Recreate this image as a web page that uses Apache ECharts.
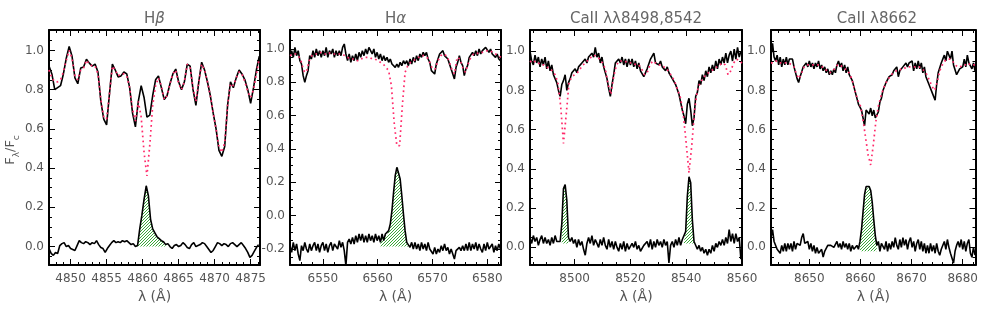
<!DOCTYPE html>
<html><head><meta charset="utf-8">
<script src="https://cdn.jsdelivr.net/npm/echarts@6/dist/echarts.min.js"></script>
<style>html,body{margin:0;padding:0;background:#fff}#c{width:981px;height:313px}</style>
</head><body><div id="c"></div>
<script>
// ---------------- DATA ----------------
// H-beta panel (wavelength grids: start, step)
const hbObsStart = 4847, hbObsStep = 0.4;
const hbObs = [0.92,0.88,0.80,0.81,0.82,0.88,0.96,1.02,0.97,0.86,
 0.83,0.91,0.915,0.955,0.935,0.92,0.93,0.89,0.74,0.65,
 0.62,0.78,0.93,0.90,0.865,0.87,0.89,0.88,0.81,0.68,
 0.61,0.74,0.82,0.76,0.66,0.67,0.77,0.85,0.87,0.81,
 0.75,0.77,0.83,0.88,0.905,0.84,0.80,0.84,0.93,0.92,
 0.80,0.72,0.84,0.94,0.90,0.84,0.77,0.68,0.60,0.49,
 0.46,0.51,0.72,0.84,0.81,0.86,0.90,0.88,0.85,0.80,
 0.73,0.81,0.90,0.97];
const hbModelStart = 4847, hbModelStep = 0.4;
const hbModel = [0.90,0.86,0.84,0.84,0.85,0.89,0.95,1.00,0.96,0.87,
 0.85,0.90,0.91,0.95,0.93,0.92,0.92,0.88,0.75,0.66,
 0.65,0.78,0.92,0.90,0.87,0.88,0.88,0.87,0.81,0.70,
 0.64,0.74,0.66,0.48,0.36,0.52,0.72,0.82,0.86,0.82,
 0.75,0.77,0.83,0.88,0.90,0.83,0.80,0.84,0.93,0.91,
 0.81,0.74,0.84,0.93,0.90,0.84,0.77,0.68,0.60,0.51,
 0.48,0.53,0.72,0.83,0.82,0.86,0.89,0.88,0.84,0.79,
 0.76,0.80,0.88,0.96];
const hbDiffStart = 4847, hbDiffStep = 0.3;
const hbDiff = [-0.01,-0.035,-0.045,-0.03,-0.035,0.005,0.015,0.02,0.0,0.005,
 -0.01,-0.015,-0.02,0.005,0.03,0.02,0.015,0.025,0.02,0.01,
 0.02,0.015,0.03,0.01,-0.005,-0.01,-0.03,-0.01,0.005,0.02,
 0.03,0.02,0.025,0.02,0.03,0.025,0.03,0.02,0.01,0.015,
 0.0,0.005,0.09,0.16,0.24,0.31,0.26,0.14,0.09,0.07,
 0.05,0.04,0.03,0.025,0.01,0.015,0.0,-0.01,0.005,0.01,
 0.0,0.005,0.02,0.01,-0.005,-0.01,0.01,0.02,0.0,0.005,
 0.01,0.02,0.015,0.0,-0.015,-0.03,-0.02,0.0,0.02,0.015,
 0.005,0.015,0.01,0.0,0.015,0.02,0.01,0.0,0.01,0.02,
 0.005,-0.01,-0.03,-0.055,-0.045,-0.025,-0.005,0.01];
const hbFillRanges = [[4859.2, 4863.3]];
const hbFillBase = 0.0;

// H-alpha panel
const haObsStart = 6544, haObsStep = 0.3;
const haObs = [0.95,0.99,0.95,1.01,0.96,0.99,0.93,0.91,0.84,0.80,
 0.84,0.87,0.96,0.94,0.99,0.95,1.00,0.96,0.99,0.95,
 0.99,0.96,1.01,0.95,0.99,0.97,1.00,0.95,0.99,0.96,
 0.99,0.96,1.01,1.03,0.97,0.93,0.97,0.92,0.96,0.93,
 0.97,0.93,0.98,0.95,0.99,0.96,1.00,0.97,1.01,0.99,
 0.97,1.00,0.95,0.98,0.94,0.97,0.93,0.96,0.93,0.95,
 0.92,0.94,0.91,0.92,0.89,0.91,0.89,0.92,0.90,0.93,
 0.91,0.93,0.90,0.94,0.91,0.95,0.92,0.96,0.93,0.97,
 0.95,0.98,0.96,0.98,0.94,0.92,0.87,0.88,0.85,0.91,
 0.94,0.97,0.96,0.99,0.96,0.97,0.94,0.93,0.88,0.87,
 0.82,0.89,0.92,0.96,0.92,0.90,0.84,0.88,0.90,0.95,
 0.95,0.98,0.96,0.99,0.96,1.00,0.97,0.99,0.98,1.01,
 1.02,0.98,1.00,0.97,0.98,0.95,0.97,0.94,0.93];
const haModelStart = 6544, haModelStep = 0.5;
const haModel = [0.96,0.97,0.97,0.96,0.93,0.87,0.86,0.93,0.96,0.97,
 0.97,0.98,0.97,0.97,0.98,0.97,0.97,0.97,0.97,0.97,
 0.96,0.95,0.94,0.94,0.93,0.93,0.94,0.95,0.95,0.95,
 0.94,0.94,0.93,0.92,0.91,0.89,0.87,0.78,0.56,0.42,
 0.42,0.66,0.86,0.90,0.92,0.93,0.94,0.95,0.96,0.96,
 0.95,0.92,0.88,0.88,0.93,0.96,0.97,0.96,0.93,0.88,
 0.85,0.95,0.94,0.89,0.86,0.91,0.95,0.97,0.97,0.98,
 0.98,0.98,0.99,0.99,0.98,0.97,0.96,0.95];
const haDiffStart = 6544, haDiffStep = 0.3;
const haDiff = [-0.18,-0.22,-0.16,-0.21,-0.17,-0.23,-0.27,-0.18,-0.21,-0.16,
 -0.20,-0.22,-0.17,-0.21,-0.18,-0.16,-0.21,-0.17,-0.22,-0.18,
 -0.16,-0.21,-0.17,-0.22,-0.18,-0.16,-0.21,-0.17,-0.16,-0.20,
 -0.15,-0.19,-0.16,-0.21,-0.30,-0.16,-0.14,-0.17,-0.13,-0.17,
 -0.12,-0.16,-0.11,-0.15,-0.11,-0.16,-0.12,-0.16,-0.11,-0.15,
 -0.12,-0.16,-0.11,-0.15,-0.12,-0.16,-0.11,-0.15,-0.11,-0.12,
 -0.09,-0.05,0.03,0.14,0.24,0.29,0.28,0.22,0.12,0.01,
 -0.09,-0.16,-0.17,-0.19,-0.16,-0.20,-0.16,-0.20,-0.17,-0.21,
 -0.16,-0.20,-0.17,-0.21,-0.16,-0.20,-0.19,-0.23,-0.19,-0.23,
 -0.20,-0.22,-0.18,-0.21,-0.17,-0.21,-0.19,-0.23,-0.20,-0.23,
 -0.26,-0.21,-0.22,-0.19,-0.21,-0.18,-0.21,-0.17,-0.21,-0.16,
 -0.21,-0.17,-0.20,-0.16,-0.21,-0.17,-0.20,-0.22,-0.17,-0.21,
 -0.16,-0.20,-0.21,-0.17,-0.22,-0.18,-0.21,-0.17,-0.20];
const haFillRanges = [[6560.4, 6565.7]];
const haFillBase = -0.185;

// Ca II 8498, 8542 panel
const ca1ObsStart = 8484, ca1ObsStep = 0.6;
const ca1Obs = [1.00,0.95,0.93,0.98,0.94,0.97,0.92,0.96,0.93,0.97,
 0.91,0.95,0.90,0.93,0.88,0.89,0.84,0.80,0.77,0.83,
 0.85,0.88,0.80,0.84,0.86,0.89,0.88,0.91,0.89,0.92,
 0.92,0.94,0.93,0.96,0.94,0.97,0.96,0.99,0.97,1.02,
 0.97,0.99,0.94,0.97,0.92,0.92,0.86,0.81,0.77,0.83,
 0.88,0.94,0.93,0.96,0.94,0.97,0.93,0.96,0.92,0.96,
 0.93,0.96,0.92,0.95,0.91,0.94,0.90,0.90,0.87,0.86,
 0.91,0.92,0.96,0.95,0.99,0.94,0.95,0.93,0.95,0.92,
 0.93,0.90,0.92,0.89,0.89,0.86,0.86,0.83,0.82,0.78,
 0.77,0.70,0.67,0.63,0.73,0.76,0.70,0.62,0.66,0.77,
 0.79,0.85,0.83,0.88,0.85,0.90,0.87,0.92,0.89,0.93,
 0.90,0.95,0.91,0.96,0.93,0.97,0.94,0.99,0.94,0.98,
 1.00,0.95,1.01,0.96,1.02,0.97,1.00];
const ca1ModelStart = 8484, ca1ModelStep = 1.0;
const ca1Model = [0.95,0.94,0.95,0.94,0.93,0.93,0.92,0.91,0.90,0.88,
 0.84,0.72,0.53,0.68,0.84,0.87,0.88,0.89,0.91,0.93,
 0.94,0.96,0.97,0.98,0.97,0.96,0.94,0.91,0.83,0.78,
 0.87,0.93,0.95,0.95,0.95,0.94,0.94,0.94,0.93,0.93,
 0.91,0.88,0.89,0.93,0.95,0.94,0.93,0.93,0.92,0.91,
 0.89,0.87,0.84,0.80,0.76,0.67,0.53,0.38,0.52,0.70,
 0.80,0.84,0.86,0.88,0.89,0.90,0.91,0.92,0.93,0.94,
 0.93,0.88,0.90,0.94,0.96,0.95,0.94];
const ca1DiffStart = 8484, ca1DiffStep = 0.6;
const ca1Diff = [0.05,0.02,0.06,0.03,0.05,0.01,0.04,0.06,0.02,0.05,
 0.02,0.04,0.01,0.05,0.02,0.06,0.03,0.04,0.03,0.12,
 0.30,0.32,0.24,0.05,0.03,0.05,0.02,0.04,0.00,0.04,
 0.01,0.03,-0.01,-0.04,0.02,0.05,0.02,0.06,0.01,0.04,
 0.02,0.00,0.04,0.01,0.05,0.01,-0.01,0.04,0.00,0.03,
 -0.01,0.03,0.00,-0.02,0.02,-0.01,0.03,-0.02,0.02,-0.01,
 -0.02,0.02,0.00,0.03,-0.01,0.01,-0.02,-0.03,0.01,0.00,
 0.03,0.00,0.04,-0.01,0.03,0.00,0.04,0.01,0.03,0.00,
 0.04,0.01,0.03,-0.08,0.01,0.03,0.00,0.04,0.01,0.05,
 0.01,0.04,0.03,0.08,0.26,0.36,0.33,0.14,0.03,0.02,
 -0.01,0.01,-0.02,0.00,-0.03,-0.01,-0.04,-0.01,-0.03,0.01,
 -0.02,0.02,0.00,0.03,0.01,0.04,0.01,0.05,0.02,0.09,
 0.03,0.07,0.02,0.07,0.03,0.05,-0.06];
const ca1FillRanges = [[8495.3, 8497.9], [8539.1, 8542.9]];
const ca1FillBase = 0.02;

// Ca II 8662 panel
const ca2ObsStart = 8642.5, ca2ObsStep = 0.3;
const ca2Obs = [0.98,1.04,0.97,0.95,0.98,0.93,0.97,0.92,0.96,0.93,
 0.97,0.93,0.96,0.95,0.96,0.92,0.91,0.86,0.84,0.87,
 0.88,0.92,0.91,0.94,0.92,0.95,0.92,0.94,0.91,0.94,
 0.92,0.95,0.91,0.93,0.90,0.92,0.89,0.91,0.88,0.90,
 0.88,0.91,0.89,0.93,0.95,0.92,0.94,0.90,0.93,0.89,
 0.92,0.88,0.88,0.85,0.84,0.79,0.78,0.73,0.74,0.70,
 0.66,0.62,0.70,0.71,0.68,0.71,0.67,0.70,0.66,0.65,
 0.69,0.74,0.76,0.80,0.80,0.84,0.84,0.87,0.87,0.88,
 0.90,0.90,0.92,0.87,0.90,0.90,0.92,0.91,0.94,0.92,
 0.94,0.93,0.95,0.90,0.94,0.91,0.95,0.91,0.94,0.89,
 0.92,0.87,0.88,0.83,0.83,0.79,0.79,0.75,0.83,0.89,
 0.90,0.94,0.94,0.98,0.95,1.00,0.99,0.96,1.00,0.93,
 0.92,0.88,0.89,0.91,0.91,0.92,0.96,0.92,0.98,0.94,
 0.95,0.91,0.94,0.90];
const ca2ModelStart = 8642.5, ca2ModelStep = 0.5;
const ca2Model = [0.94,0.94,0.95,0.94,0.94,0.94,0.94,0.94,0.93,0.92,
 0.88,0.86,0.89,0.92,0.93,0.93,0.93,0.93,0.93,0.93,
 0.92,0.91,0.90,0.89,0.90,0.91,0.93,0.93,0.92,0.91,
 0.90,0.88,0.84,0.79,0.75,0.72,0.65,0.56,0.47,0.42,
 0.52,0.64,0.72,0.77,0.81,0.84,0.86,0.88,0.89,0.90,
 0.90,0.91,0.91,0.92,0.92,0.92,0.92,0.92,0.92,0.91,
 0.90,0.88,0.85,0.82,0.80,0.84,0.90,0.93,0.95,0.96,
 0.96,0.95,0.93,0.92,0.92,0.93,0.93,0.94,0.93,0.93,
 0.93];
const ca2DiffStart = 8642.5, ca2DiffStep = 0.3;
const ca2Diff = [0.05,0.09,0.03,0.02,-0.01,0.00,-0.03,0.01,-0.02,0.02,
 -0.02,0.02,-0.01,0.02,-0.02,0.03,-0.01,0.02,0.03,0.01,
 0.05,0.07,0.02,0.01,0.03,-0.01,0.02,-0.02,0.01,-0.03,
 0.00,-0.03,-0.02,-0.01,-0.05,-0.02,-0.02,0.01,0.00,0.01,
 0.02,0.00,0.01,0.03,0.00,0.02,-0.01,0.03,0.00,0.02,
 -0.01,0.02,-0.02,0.01,-0.01,0.00,0.01,-0.01,0.03,0.09,
 0.18,0.27,0.31,0.30,0.31,0.29,0.23,0.14,0.06,0.01,
 0.03,-0.02,0.02,0.03,-0.01,0.03,-0.02,0.02,-0.01,0.03,
 0.00,0.05,0.01,-0.01,0.04,0.00,0.05,0.01,0.04,-0.01,
 0.03,0.05,0.00,0.03,-0.02,0.02,0.04,-0.01,0.03,-0.02,
 0.02,-0.03,0.01,-0.03,0.02,-0.02,0.01,-0.03,0.02,-0.02,
 -0.04,-0.01,-0.01,0.03,-0.01,0.04,0.00,-0.03,-0.04,-0.08,
 -0.02,0.01,0.03,0.00,0.04,-0.01,0.03,-0.02,0.02,0.04,
 -0.03,-0.05,0.00,-0.04];
const ca2FillRanges = [[8659.8, 8663.3]];
const ca2FillBase = -0.02;

// Tick values
const hbXMajor = [4850,4855,4860,4865,4870,4875];
const hbXMinor = [4848,4849,4851,4852,4853,4854,4856,4857,4858,4859,4861,4862,4863,4864,4866,4867,4868,4869,4871,4872,4873,4874,4876];
const haXMajor = [6550,6560,6570,6580];
const haXMinor = [6546,6548,6552,6554,6556,6558,6562,6564,6566,6568,6572,6574,6576,6578,6582];
const ca1XMajor = [8500,8520,8540,8560];
const ca1XMinor = [8485,8490,8495,8505,8510,8515,8525,8530,8535,8545,8550,8555];
const ca2XMajor = [8650,8660,8670,8680];
const ca2XMinor = [8644,8646,8648,8652,8654,8656,8658,8662,8664,8666,8668,8672,8674,8676,8678,8682];
const yMajor = [0,0.2,0.4,0.6,0.8,1.0];
const yMinor = [-0.05,0.05,0.1,0.15,0.25,0.3,0.35,0.45,0.5,0.55,0.65,0.7,0.75,0.85,0.9,0.95,1.05];
const haYMajor = [-0.2,0,0.2,0.4,0.6,0.8,1.0];
const haYMinor = [-0.25,-0.15,-0.1,-0.05,0.05,0.1,0.15,0.25,0.3,0.35,0.45,0.5,0.55,0.65,0.7,0.75,0.85,0.9,0.95,1.05];

const titles = ['H{i|β}', 'H{i|α}', 'CaII λλ8498,8542', 'CaII λ8662'];
const xName = 'λ (Å)';

// ---------------- BUILD ----------------
const pairs = (s, d, arr) => arr.map((v, i) => [+(s + i * d).toFixed(4), v]);

const panels = [
  {left:49, width:211, xMin:4847, xMax:4876.3, yMin:-0.094, yMax:1.104, xMaj:hbXMajor, xMin_:hbXMinor, yMaj:yMajor, yMin_:yMinor,
   obs:pairs(hbObsStart,hbObsStep,hbObs), model:pairs(hbModelStart,hbModelStep,hbModel), diff:pairs(hbDiffStart,hbDiffStep,hbDiff), fills:hbFillRanges, base:hbFillBase},
  {left:290, width:211, xMin:6544, xMax:6582.5, yMin:-0.296, yMax:1.114, xMaj:haXMajor, xMin_:haXMinor, yMaj:haYMajor, yMin_:haYMinor,
   obs:pairs(haObsStart,haObsStep,haObs), model:pairs(haModelStart,haModelStep,haModel), diff:pairs(haDiffStart,haDiffStep,haDiff), fills:haFillRanges, base:haFillBase},
  {left:530, width:212, xMin:8484, xMax:8560, yMin:-0.09, yMax:1.108, xMaj:ca1XMajor, xMin_:ca1XMinor, yMaj:yMajor, yMin_:yMinor,
   obs:pairs(ca1ObsStart,ca1ObsStep,ca1Obs), model:pairs(ca1ModelStart,ca1ModelStep,ca1Model), diff:pairs(ca1DiffStart,ca1DiffStep,ca1Diff), fills:ca1FillRanges, base:ca1FillBase},
  {left:771, width:212, xMin:8642.5, xMax:8682.5, yMin:-0.09, yMax:1.108, xMaj:ca2XMajor, xMin_:ca2XMinor, yMaj:yMajor, yMin_:yMinor,
   obs:pairs(ca2ObsStart,ca2ObsStep,ca2Obs), model:pairs(ca2ModelStart,ca2ModelStep,ca2Model), diff:pairs(ca2DiffStart,ca2DiffStep,ca2Diff), fills:ca2FillRanges, base:ca2FillBase}
];

// hatch pattern
const pc = document.createElement('canvas');
pc.width = 3; pc.height = 3;
const g = pc.getContext('2d');
g.fillStyle = '#ffffff'; g.fillRect(0,0,3,3);
g.fillStyle = '#39a839';
g.fillRect(2,0,1,1); g.fillRect(1,1,1,1); g.fillRect(0,2,1,1);
const hatch = {image: pc, repeat: 'repeat'};

const FONT = 'DejaVu Sans';
const LABEL = '#555';
const TOP = 30, HEIGHT = 235;

const grids = [], xAxes = [], yAxes = [], series = [], graphics = [];
const off = {type:'value', splitLine:{show:false}, axisLabel:{show:false}, axisLine:{show:false,onZero:false}};

panels.forEach((p, k) => {
  grids.push({left:p.left, top:TOP, width:p.width, height:HEIGHT, containLabel:false});
  const lineS = {show:true, onZero:false, lineStyle:{color:'#000', width:2}};
  const majT = vals => ({show:true, inside:true, length:6, customValues:vals, lineStyle:{color:'#000', width:1}});
  const minT = vals => ({show:true, inside:true, length:3, customValues:vals, lineStyle:{color:'#000', width:1}});
  xAxes.push({...off, gridIndex:k, min:p.xMin, max:p.xMax, position:'bottom', axisLine:lineS, axisTick:majT(p.xMaj),
    axisLabel:{show:true, customValues:p.xMaj, color:LABEL, fontSize:12, fontFamily:FONT, margin:8, formatter:v=>String(Math.round(v))},
    name:xName, nameLocation:'middle', nameGap:24, nameTextStyle:{color:LABEL, fontSize:14, fontFamily:FONT}});
  xAxes.push({...off, gridIndex:k, min:p.xMin, max:p.xMax, position:'bottom', axisTick:minT(p.xMin_)});
  xAxes.push({...off, gridIndex:k, min:p.xMin, max:p.xMax, position:'top', axisLine:lineS, axisTick:majT(p.xMaj)});
  xAxes.push({...off, gridIndex:k, min:p.xMin, max:p.xMax, position:'top', axisTick:minT(p.xMin_)});
  yAxes.push({...off, gridIndex:k, min:p.yMin, max:p.yMax, position:'left', axisLine:lineS, axisTick:majT(p.yMaj),
    axisLabel:{show:true, customValues:p.yMaj, color:LABEL, fontSize:12, fontFamily:FONT, margin:5, formatter:v=>v.toFixed(1)}});
  yAxes.push({...off, gridIndex:k, min:p.yMin, max:p.yMax, position:'left', axisTick:minT(p.yMin_)});
  yAxes.push({...off, gridIndex:k, min:p.yMin, max:p.yMax, position:'right', axisLine:lineS, axisTick:majT(p.yMaj)});
  yAxes.push({...off, gridIndex:k, min:p.yMin, max:p.yMax, position:'right', axisTick:minT(p.yMin_)});

  const xi = 4*k, yi = 4*k;
  series.push({type:'custom', xAxisIndex:xi, yAxisIndex:yi, coordinateSystem:'cartesian2d', silent:true, z:2, clip:true,
    data: p.fills.map(f => [f[0], f[1]]),
    renderItem: (params, api) => {
      const a = api.value(0), b = api.value(1);
      const pts = p.diff.filter(d => d[0] >= a - 1e-6 && d[0] <= b + 1e-6);
      const poly = pts.map(d => api.coord(d));
      poly.push(api.coord([pts[pts.length-1][0], p.base]));
      poly.push(api.coord([pts[0][0], p.base]));
      return {type:'polygon', shape:{points:poly}, style:{fill:hatch, stroke:null}};
    }});
  series.push({type:'line', xAxisIndex:xi, yAxisIndex:yi, data:p.obs, symbol:'none', z:3, clip:true,
    lineStyle:{color:'#000', width:1.6}});
  series.push({type:'line', xAxisIndex:xi, yAxisIndex:yi, data:p.diff, symbol:'none', z:3, clip:true,
    lineStyle:{color:'#000', width:1.6}});
  series.push({type:'line', xAxisIndex:xi, yAxisIndex:yi, data:p.model, symbol:'none', z:4, clip:true,
    lineStyle:{color:'#ff2a6a', width:1.7, type:[1.7,3.3]}});
  graphics.push({type:'text', x:p.left + p.width/2, y:19, z:10,
    style:{text:titles[k], fill:'#666', fontSize:15, fontFamily:FONT, align:'center', verticalAlign:'middle',
      rich:{i:{fontStyle:'italic', fontSize:15, fontFamily:FONT, fill:'#666'}}}});
});

graphics.push({type:'text', x:11, y:150, rotation:Math.PI/2, z:10,
  style:{text:'{a|F}{s|λ}{a|/F}{s|c}', fill:LABEL, align:'center', verticalAlign:'middle',
    rich:{a:{fontSize:13, fontFamily:FONT, fill:LABEL, lineHeight:20, verticalAlign:'middle'},
          s:{fontSize:9, fontFamily:FONT, fill:LABEL, lineHeight:20, verticalAlign:'bottom'}}}});

const chart = echarts.init(document.getElementById('c'), null, {renderer:'canvas'});
chart.setOption({
  animation:false,
  backgroundColor:'#fff',
  grid:grids, xAxis:xAxes, yAxis:yAxes, series:series, graphic:graphics
});
</script></body></html>
